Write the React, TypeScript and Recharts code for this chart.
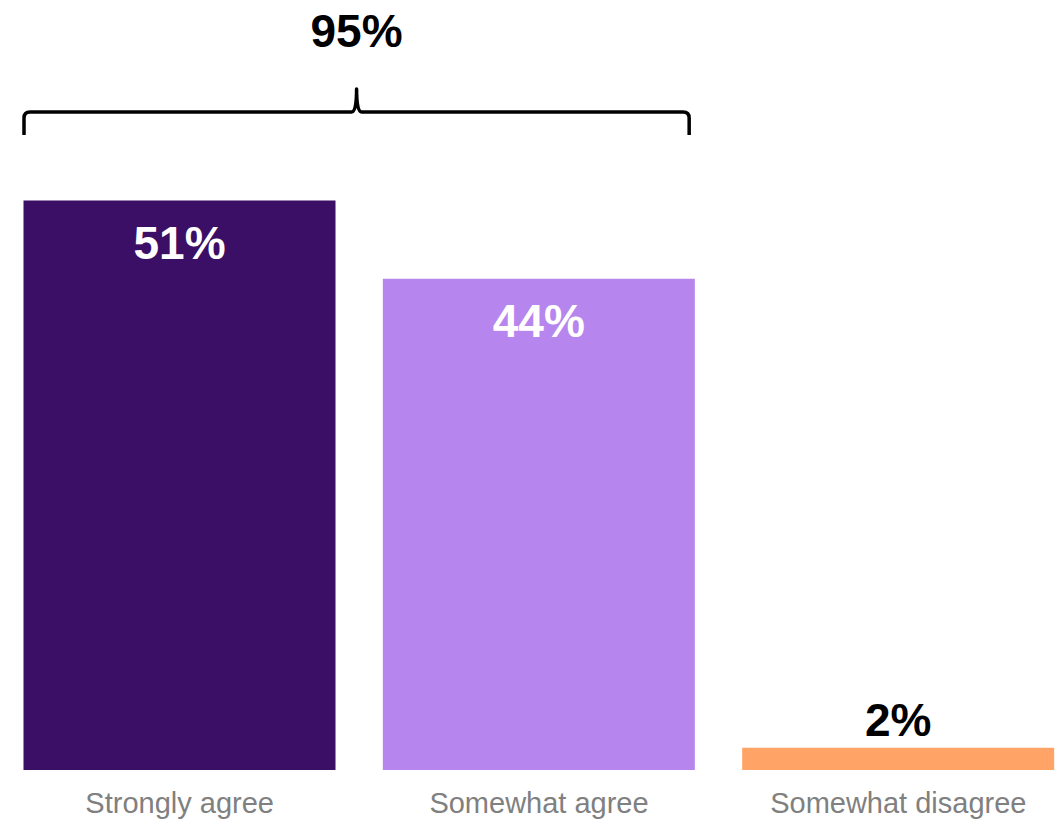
import React from "react";
import { BarChart, Bar, XAxis, YAxis, Cell, LabelList } from "recharts";

const categories = ["Strongly agree", "Somewhat agree", "Somewhat disagree"];
const shares = [51, 44, 2];
// the first two answers are grouped under the bracket
const groupedCount = 2;

const palette = ["#3B0F65", "#B686EE", "#FFA466"];

const data = categories.map((name, i) => ({ name, share: shares[i] }));
const groupedTotal = shares.slice(0, groupedCount).reduce((a, b) => a + b, 0);

const FONT = "'Liberation Sans', Arial, sans-serif";
const WIDTH = 1078;
const HEIGHT = 819;
const TOP = 100;
const AXIS_H = 49;
const BAR_GAP = 23.5;
const plotBottom = HEIGHT - AXIS_H;
const band = WIDTH / categories.length;

const ValueLabel = (props: any) => {
    const { x, y, width, value } = props;
    const inside = value >= 10;
    return (
        <text
            x={x + width / 2}
            y={inside ? y + 58 : y - 12}
            textAnchor="middle"
            fill={inside ? "#ffffff" : "#000000"}
            fontSize={46}
            fontWeight="bold"
            fontFamily={FONT}
        >
            {value}%
        </text>
    );
};

const CategoryTick = (props: any) => {
    const { x, payload } = props;
    return (
        <text
            x={x}
            y={plotBottom + 43}
            textAnchor="middle"
            fill="#808080"
            fontSize={29}
            fontFamily={FONT}
        >
            {payload.value}
        </text>
    );
};

// curly bracket over the grouped bars, with the summed share above it
function Bracket() {
    const left = BAR_GAP + 0.5;
    const right = band * groupedCount - BAR_GAP - 6;
    const mid = (left + right) / 2;
    const yLine = 112;
    const yEnd = 135;
    const yPeak = 89;
    const r = 6;
    const d = [
        `M ${left} ${yEnd}`,
        `L ${left} ${yLine + r}`,
        `Q ${left} ${yLine} ${left + r} ${yLine}`,
        `L ${mid - 5} ${yLine}`,
        `Q ${mid} ${yLine} ${mid} ${yPeak}`,
        `Q ${mid} ${yLine} ${mid + 5} ${yLine}`,
        `L ${right - r} ${yLine}`,
        `Q ${right} ${yLine} ${right} ${yLine + r}`,
        `L ${right} ${yEnd}`,
    ].join(" ");
    return (
        <svg
            width={WIDTH}
            height={HEIGHT}
            style={{ position: "absolute", left: 0, top: 0, pointerEvents: "none" }}
        >
            <path d={d} fill="none" stroke="#000" strokeWidth={3.5} strokeLinejoin="round" />
            <text
                x={mid}
                y={47}
                textAnchor="middle"
                fontSize={46}
                fontWeight="bold"
                fontFamily={FONT}
                fill="#000"
            >
                {groupedTotal}%
            </text>
        </svg>
    );
}

export default function App() {
    return (
        <div
            style={{
                position: "fixed",
                left: 0,
                top: 0,
                width: 1058,
                height: HEIGHT,
                overflow: "hidden",
                background: "#fff",
            }}
        >
            <BarChart
                width={WIDTH}
                height={HEIGHT}
                data={data}
                barCategoryGap={BAR_GAP}
                margin={{ top: TOP, right: 0, left: 0, bottom: 0 }}
            >
                <XAxis
                    dataKey="name"
                    height={AXIS_H}
                    axisLine={false}
                    tickLine={false}
                    interval={0}
                    tick={<CategoryTick />}
                />
                <YAxis hide domain={[0, 60]} />
                <Bar dataKey="share" isAnimationActive={false}>
                    {data.map((d, i) => (
                        <Cell key={d.name} fill={palette[i]} />
                    ))}
                    <LabelList dataKey="share" content={<ValueLabel />} />
                </Bar>
            </BarChart>
            <Bracket />
        </div>
    );
}
